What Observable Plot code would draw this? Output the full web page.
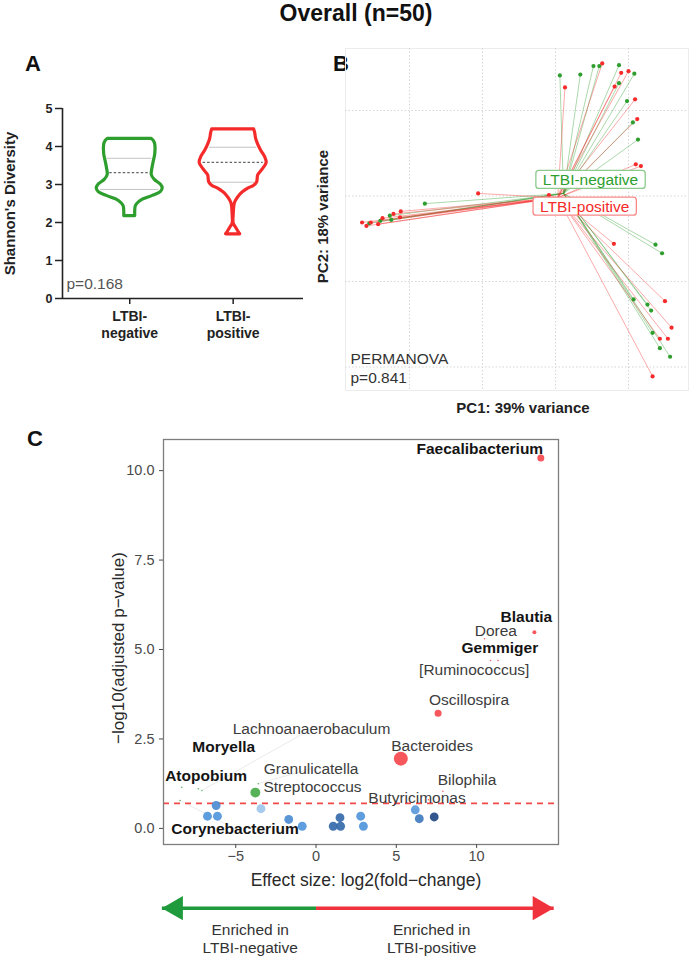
<!DOCTYPE html>
<html>
<head>
<meta charset="utf-8">
<script src="https://cdn.jsdelivr.net/npm/d3@7"></script>
<script src="https://cdn.jsdelivr.net/npm/@observablehq/plot@0.6"></script>
<style>
  body { margin: 0; background: #fff; }
  #fig { position: relative; width: 692px; height: 959px; overflow: hidden; background: #fff;
         font-family: "Liberation Sans", Arial, sans-serif; color: #111; }
  #fig > svg, #fig > div { position: absolute; }
  .title { left: 10px; width: 692px; top: 1px; text-align: center; font-weight: bold; font-size: 23px; line-height: 24px; }
  .tag { font-weight: bold; font-size: 22px; line-height: 22px; }
</style>
</head>
<body>
<div id="fig">
  <div class="title">Overall (n=50)</div>
  <div class="tag" style="left:25px;top:53px">A</div>
  <div class="tag" style="left:333px;top:53px">B</div>
  <div class="tag" style="left:27px;top:428px">C</div>
</div>
<script>
// ---------- shared ----------
const groups = ["LTBI-negative", "LTBI-positive"];
const groupColors = ["#2e9e2e", "#f52a2a"];
const font = "Liberation Sans, Arial, sans-serif";

// ---------- A: Shannon diversity violins ----------
const diversityTicks = [0, 1, 2, 3, 4, 5];
const negLevels  = [2.17, 2.3, 2.42, 2.5, 2.6, 2.7, 2.8, 2.9, 3.0, 3.12, 3.25, 3.4, 3.6, 3.8, 4.05, 4.15, 4.2];
const negDensity = [0.053, 0.053, 0.058, 0.077, 0.126, 0.222, 0.300, 0.319, 0.300, 0.242, 0.213, 0.218, 0.232, 0.247, 0.247, 0.232, 0.213];
const posLevels  = [1.69, 1.75, 1.88, 1.97, 2.2, 2.49, 2.58, 2.71, 2.8, 2.89, 2.97, 3.06, 3.15, 3.24, 3.41, 3.57, 3.72, 3.89, 4.05, 4.2, 4.35, 4.45];
const posDensity = [0.068, 0.053, 0.024, 0.005, 0.005, 0.015, 0.029, 0.063, 0.097, 0.145, 0.203, 0.232, 0.237, 0.242, 0.290, 0.324, 0.309, 0.271, 0.242, 0.222, 0.213, 0.203];
const negQuartiles = [2.87, 3.31, 3.69];
const posQuartiles = [3.06, 3.58, 3.98];
const diversityLabel = "p=0.168";

// ---------- B: PCoA spider plot ----------
const negPC1 = [0.006, 0.034, 0.052, 0.060, 0.087, 0.108, 0.087, 0.098, 0.106, 0.113, -0.179, -0.227, -0.225, -0.240, -0.255, 0.137, 0.146, 0.107, 0.126, 0.131, 0.133, 0.143, 0.157];
const negPC2 = [0.241, 0.242, 0.252, 0.252, 0.253, 0.243, 0.232, 0.211, 0.186, 0.166, 0.091, 0.077, 0.072, 0.071, 0.068, 0.043, 0.033, -0.021, -0.027, -0.034, -0.060, -0.078, -0.088];
const posPC1 = [0.064, 0.090, 0.100, 0.081, 0.013, 0.109, 0.112, 0.110, 0.117, -0.106, -0.009, -0.212, -0.222, -0.213, -0.237, -0.243, -0.253, -0.259, -0.265, 0.080, 0.150, 0.159, 0.143, 0.154, 0.133];
const posPC2 = [0.255, 0.244, 0.246, 0.228, 0.227, 0.213, 0.190, 0.137, 0.135, 0.103, 0.101, 0.082, 0.079, 0.075, 0.074, 0.067, 0.069, 0.065, 0.069, 0.044, -0.023, -0.054, -0.067, -0.067, -0.111];
const centroidPC1 = [0.011, 0.003];
const centroidPC2 = [0.103, 0.098];
const pcGrid1 = [-0.2, -0.1, 0, 0.1];
const pcGrid2 = [-0.1, 0, 0.1, 0.2];
const permanovaLabel = "PERMANOVA\np=0.841";

// ---------- C: differential abundance volcano ----------
const taxa      = ["Faecalibacterium", "Blautia", "Dorea", "Gemmiger", "[Ruminococcus]", "Oscillospira", "Bacteroides", "Bilophila", "Butyricimonas", "Streptococcus", "Granulicatella", "Lachnoanaerobaculum", "Moryella", "Atopobium", "Corynebacterium"];
const taxaLFC   = [14.0, 13.6, 10.5, 11.33, 10.87, 7.6, 5.28, 7.9, 7.0, -3.78, -3.6, -7.11, -7.33, -8.36, -8.47];
const taxaNLP   = [10.35, 5.48, 5.30, 4.69, 4.69, 3.22, 1.95, 1.04, 0.80, 1.00, 1.25, 1.06, 1.11, 1.15, 0.78];
const taxaAbund = [25, 8, 1.2, 1.2, 1.2, 25, 100, 1.2, 1.2, 50, 1.2, 1.2, 1.2, 1.2, 1.2];
const taxaBold  = [true, true, false, true, false, false, false, false, false, false, false, false, true, true, true];
const labelLFC  = [10.2, 13.1, 11.2, 11.45, 9.85, 9.53, 7.23, 9.40, 6.29, -0.22, -0.31, -0.28, -5.75, -6.85, -5.05];
const labelNLP  = [10.61, 5.90, 5.53, 5.04, 4.43, 3.60, 2.30, 1.36, 0.86, 1.17, 1.67, 2.78, 2.27, 1.46, -0.01];
const otherLFC   = [-6.22, -6.76, -6.14, -3.43, -1.70, -0.86, 1.49, 1.07, 1.53, 2.78, 2.95, 6.18, 6.43, 7.36];
const otherNLP   = [0.64, 0.34, 0.34, 0.55, 0.25, 0.06, 0.30, 0.06, 0.06, 0.34, 0.06, 0.52, 0.27, 0.32];
const otherDepth = [0.55, 0.5, 0.5, 0.1, 0.55, 0.5, 0.75, 0.75, 0.75, 0.5, 0.5, 0.45, 0.65, 0.95];
const otherAbund = 40;
const padjCutoff = 0.2;
const nlpTicks = [0, 2.5, 5, 7.5, 10];
const lfcTicks = [-5, 0, 5, 10];
const arrowExtent = [-9.6, 14.8];
const arrowLabelLFC = [-4.1, 7.2];

// ================= A =================
const vioRows = (levels, dens, center) => levels.map((v, i) => ({v, lo: center - dens[i], hi: center + dens[i]}));
const halfWidth = (levels, dens) => d3.scaleLinear().domain(levels).range(dens);
const qRows = (qs, levels, dens, center) => qs.map((q, i) => {
  const w = halfWidth(levels, dens)(q) * 0.9;
  return {q, lo: center - w, hi: center + w, median: i === 1};
});
const qAll = [...qRows(negQuartiles, negLevels, negDensity, 1), ...qRows(posQuartiles, posLevels, posDensity, 2)];

const plotA = Plot.plot({
  width: 320, height: 250,
  marginLeft: 62, marginRight: 17, marginTop: 13, marginBottom: 47,
  style: {fontFamily: font, background: "transparent"},
  x: {domain: [0.35, 2.68]},
  y: {domain: [0, 5]},
  marks: [
    Plot.areaX(vioRows(negLevels, negDensity, 1), {y: "v", x1: "lo", x2: "hi", fill: "none", stroke: groupColors[0], strokeWidth: 3.2, curve: "catmull-rom"}),
    Plot.areaX(vioRows(posLevels, posDensity, 2), {y: "v", x1: "lo", x2: "hi", fill: "none", stroke: groupColors[1], strokeWidth: 3.2, curve: "catmull-rom"}),
    Plot.ruleY(qAll.filter(d => !d.median), {y: "q", x1: "lo", x2: "hi", stroke: "#c4c4c4", strokeWidth: 1}),
    Plot.ruleY(qAll.filter(d => d.median), {y: "q", x1: "lo", x2: "hi", stroke: "#666", strokeWidth: 1.2, strokeDasharray: "2.5,2"}),
    Plot.ruleX([0.35], {stroke: "#222", strokeWidth: 1.6}),
    Plot.ruleY([0], {stroke: "#222", strokeWidth: 1.6}),
    Plot.axisY({ticks: diversityTicks, tickFormat: d => String(d), tickSize: 7, tickPadding: 3, fontSize: 12.5, fontWeight: "bold", color: "#222", strokeWidth: 1.5, label: null}),
    Plot.axisX({ticks: [1, 2], tickFormat: d => groups[d - 1].replace("-", "-\n"), tickSize: 6, tickPadding: 4, lineHeight: 1.25, fontSize: 14, fontWeight: "bold", color: "#222", strokeWidth: 1.5, label: null}),
    Plot.text(["Shannon's Diversity"], {frameAnchor: "left", textAnchor: "middle", rotate: -90, dx: -52, fontSize: 15, fontWeight: "bold", fill: "#222"}),
    Plot.text([diversityLabel], {frameAnchor: "bottom-left", textAnchor: "start", lineAnchor: "bottom", dx: 4, dy: -10, fontSize: 15.5, fill: "#555"})
  ]
});
plotA.style.left = "0px"; plotA.style.top = "95px";
document.getElementById("fig").appendChild(plotA);

// ================= B =================
const samples = [
  ...negPC1.map((x, i) => ({x, y: negPC2[i], g: 0})),
  ...posPC1.map((x, i) => ({x, y: posPC2[i], g: 1}))
];
const cents = groups.map((name, g) => ({name, g, x: centroidPC1[g], y: centroidPC2[g]}));
const groupLabel = (g, dy) => Plot.text([cents[g]], {x: "x", y: "y", text: "name", textAnchor: "middle",
  fill: groupColors[g], fontSize: 15.5, dx: 27, dy, ariaDescription: "group labels"});

const plotB = Plot.plot({
  width: 392, height: 380,
  marginLeft: 45, marginRight: 4, marginTop: 8, marginBottom: 30,
  style: {fontFamily: font, background: "transparent"},
  x: {domain: [-0.2877, 0.1822], axis: null},
  y: {domain: [-0.1275, 0.2725], axis: null},
  marks: [
    Plot.frame({stroke: "#ececec"}),
    Plot.ruleX(pcGrid1, {stroke: "#d6d6d6", strokeDasharray: "1.5,2"}),
    Plot.ruleY(pcGrid2, {stroke: "#d6d6d6", strokeDasharray: "1.5,2"}),
    Plot.link(samples, {x1: d => centroidPC1[d.g], y1: d => centroidPC2[d.g], x2: "x", y2: "y", stroke: d => groupColors[d.g], strokeOpacity: 0.4, strokeWidth: 1}),
    Plot.dot(samples, {x: "x", y: "y", r: 2.1, fill: d => groupColors[d.g], stroke: "none"}),
    groupLabel(0, -13.5),
    groupLabel(1, 9),
    Plot.text([permanovaLabel], {frameAnchor: "bottom-left", textAnchor: "start", lineAnchor: "bottom", lineHeight: 1.19, dx: 5, dy: -8, fontSize: 15.5, fill: "#333"}),
    Plot.text(["PC1: 39% variance"], {frameAnchor: "bottom", lineAnchor: "bottom", dx: 6, dy: 22, fontSize: 15, fontWeight: "bold", fill: "#222"}),
    Plot.text(["PC2: 18% variance"], {frameAnchor: "left", textAnchor: "middle", rotate: -90, dx: -22, dy: -3, fontSize: 15, fontWeight: "bold", fill: "#222"})
  ]
});
plotB.style.left = "300px"; plotB.style.top = "40px";
document.getElementById("fig").appendChild(plotB);

// ================= C =================
const sig = taxa.map((name, i) => ({name, x: taxaLFC[i], y: taxaNLP[i], a: taxaAbund[i], lx: labelLFC[i], ly: labelNLP[i], bold: taxaBold[i]}));
const others = otherLFC.map((x, i) => ({x, y: otherNLP[i], depth: otherDepth[i], a: otherAbund}));
const cutoff = -Math.log10(padjCutoff);
const far = sig.filter(d => Math.abs(d.x - d.lx) > 2.5 && d.a < 5);

const plotC = Plot.plot({
  width: 692, height: 475,
  marginLeft: 163, marginRight: 134, marginTop: 19, marginBottom: 51,
  style: {fontFamily: font, background: "transparent"},
  x: {domain: [-9.5, 15.1]},
  y: {domain: [-0.45, 10.87]},
  r: {type: "sqrt", domain: [0, 100], range: [0, 7]},
  color: {type: "linear", domain: [0, 0.5, 1], range: ["#b0d2ef", "#4d92da", "#163b78"]},
  marks: [
    Plot.link(far, {x1: "x", y1: "y", x2: "lx", y2: "ly", stroke: "#e4e4e4", strokeWidth: 0.8}),
    Plot.ruleY([cutoff], {stroke: "#f24848", strokeWidth: 1.8, strokeDasharray: "6,5"}),
    Plot.dot(others, {x: "x", y: "y", r: "a", fill: "depth", fillOpacity: 0.9}),
    Plot.dot(sig.filter(d => d.x < 0 && d.y > cutoff), {x: "x", y: "y", r: "a", fill: "#45a845", fillOpacity: 0.9}),
    Plot.dot(sig.filter(d => d.x > 0 && d.y > cutoff), {x: "x", y: "y", r: "a", fill: "#f53a40", fillOpacity: 0.85}),
    Plot.text(sig.filter(d => !d.bold), {x: "lx", y: "ly", text: "name", fontSize: 15.5, fill: "#3c3c3c"}),
    Plot.text(sig.filter(d => d.bold), {x: "lx", y: "ly", text: "name", fontSize: 15.5, fontWeight: "bold", fill: "#141414"}),
    Plot.frame({stroke: "#7d7d7d", strokeWidth: 1.3}),
    Plot.axisY({ticks: nlpTicks, tickFormat: d => d.toFixed(1), tickSize: 4, tickPadding: 5, fontSize: 14.5, color: "#4a4a4a", label: null}),
    Plot.axisX({ticks: lfcTicks, tickSize: 4, tickPadding: 2, fontSize: 14.5, color: "#4a4a4a", label: null}),
    Plot.text(["Effect size: log2(fold\u2212change)"], {frameAnchor: "bottom", lineAnchor: "bottom", dx: 5, dy: 41, fontSize: 17.5, fill: "#2a2a2a"}),
    Plot.text(["\u2212log10(adjusted p\u2212value)"], {frameAnchor: "left", textAnchor: "middle", rotate: -90, dx: -45, dy: 6, fontSize: 17, fill: "#2a2a2a"})
  ]
});
plotC.style.left = "0px"; plotC.style.top = "420px";
document.getElementById("fig").appendChild(plotC);

// ================= enrichment arrow =================
const arrowSegs = [
  {from: arrowExtent[0], to: 0, g: 0},
  {from: 0, to: arrowExtent[1], g: 1}
];
const arrowColors = ["#1f9a3c", "#f0323c"];
const arrowLabels = groups.map((name, g) => ({x: arrowLabelLFC[g], text: "Enriched in\n" + name}));

const plotArrow = Plot.plot({
  width: 692, height: 69,
  marginLeft: 163, marginRight: 134, marginTop: 0, marginBottom: 33.6,
  style: {fontFamily: font, background: "transparent"},
  x: {domain: [-9.5, 15.1], axis: null},
  y: {domain: [-1, 1], axis: null},
  marks: [
    Plot.link(arrowSegs, {x1: "from", x2: "to", y1: () => 0, y2: () => 0, stroke: d => arrowColors[d.g], strokeWidth: 3.5}),
    Plot.dot([arrowExtent[0]], {x: d => d, y: () => 0, symbol: "triangle", r: 9, rotate: -90, dx: 14, fill: arrowColors[0], stroke: "none"}),
    Plot.dot([arrowExtent[1]], {x: d => d, y: () => 0, symbol: "triangle", r: 9, rotate: 90, dx: -14, fill: arrowColors[1], stroke: "none"}),
    Plot.text(arrowLabels, {x: "x", text: "text", frameAnchor: "bottom", lineAnchor: "middle", lineHeight: 1.22, dy: 12, fontSize: 15.5, fill: "#333"})
  ]
});
plotArrow.style.left = "0px"; plotArrow.style.top = "890px";
document.getElementById("fig").appendChild(plotArrow);

// ---------- framed group labels in B ----------
plotB.querySelectorAll('g[aria-description="group labels"] text').forEach(t => {
  const b = t.getBBox();
  const col = t.getAttribute("fill") || t.parentNode.getAttribute("fill") || "#888";
  const rect = document.createElementNS("http://www.w3.org/2000/svg", "rect");
  rect.setAttribute("x", b.x - 7);
  rect.setAttribute("y", b.y - 0.5);
  rect.setAttribute("width", b.width + 14);
  rect.setAttribute("height", b.height + 1);
  rect.setAttribute("rx", 3);
  rect.setAttribute("fill", "#fff");
  rect.setAttribute("stroke", d3.interpolateRgb(col, "#fff")(0.45));
  rect.setAttribute("stroke-width", 1.3);
  const tr = t.getAttribute("transform");
  if (tr) rect.setAttribute("transform", tr);
  t.parentNode.insertBefore(rect, t);
});
</script>
</body>
</html>
